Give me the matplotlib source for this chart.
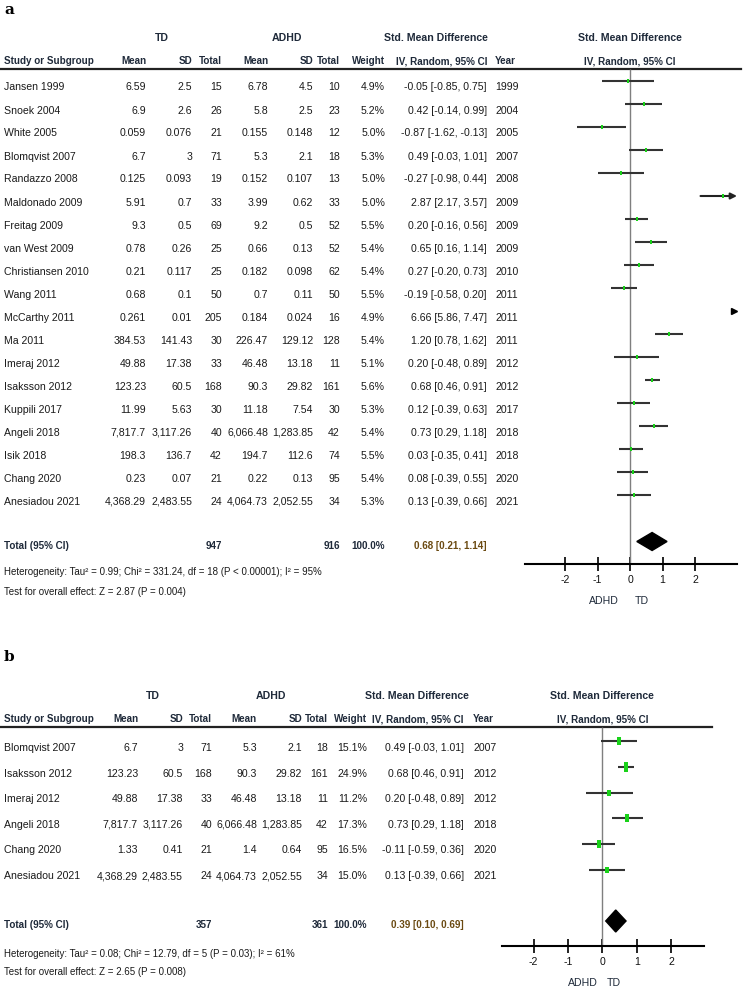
"""
Forest plot: TD vs ADHD (dos paneles, a y b)
"""

import numpy as np
import matplotlib
matplotlib.use("Agg")
import matplotlib.pyplot as plt

plt.rcParams['font.family'] = ['Liberation Sans Narrow', 'Liberation Sans', 'DejaVu Sans']

W, H = 746, 997

# ============================================================================
# DATOS - panel a
# ============================================================================
a_study = ['Jansen 1999', 'Snoek 2004', 'White 2005', 'Blomqvist 2007', 'Randazzo 2008',
           'Maldonado 2009', 'Freitag 2009', 'van West 2009', 'Christiansen 2010', 'Wang 2011',
           'McCarthy 2011', 'Ma 2011', 'Imeraj 2012', 'Isaksson 2012', 'Kuppili 2017',
           'Angeli 2018', 'Isik 2018', 'Chang 2020', 'Anesiadou 2021']
a_td_mean = [6.59, 6.9, 0.059, 6.7, 0.125, 5.91, 9.3, 0.78, 0.21, 0.68, 0.261, 384.53,
             49.88, 123.23, 11.99, 7817.7, 198.3, 0.23, 4368.29]
a_td_sd = [2.5, 2.6, 0.076, 3, 0.093, 0.7, 0.5, 0.26, 0.117, 0.1, 0.01, 141.43,
           17.38, 60.5, 5.63, 3117.26, 136.7, 0.07, 2483.55]
a_td_n = [15, 26, 21, 71, 19, 33, 69, 25, 25, 50, 205, 30, 33, 168, 30, 40, 42, 21, 24]
a_adhd_mean = [6.78, 5.8, 0.155, 5.3, 0.152, 3.99, 9.2, 0.66, 0.182, 0.7, 0.184, 226.47,
               46.48, 90.3, 11.18, 6066.48, 194.7, 0.22, 4064.73]
a_adhd_sd = [4.5, 2.5, 0.148, 2.1, 0.107, 0.62, 0.5, 0.13, 0.098, 0.11, 0.024, 129.12,
             13.18, 29.82, 7.54, 1283.85, 112.6, 0.13, 2052.55]
a_adhd_n = [10, 23, 12, 18, 13, 33, 52, 52, 62, 50, 16, 128, 11, 161, 30, 42, 74, 95, 34]
a_weight = [4.9, 5.2, 5.0, 5.3, 5.0, 5.0, 5.5, 5.4, 5.4, 5.5, 4.9, 5.4, 5.1, 5.6, 5.3,
            5.4, 5.5, 5.4, 5.3]
a_smd = [-0.05, 0.42, -0.87, 0.49, -0.27, 2.87, 0.20, 0.65, 0.27, -0.19, 6.66, 1.20,
         0.20, 0.68, 0.12, 0.73, 0.03, 0.08, 0.13]
a_lo = [-0.85, -0.14, -1.62, -0.03, -0.98, 2.17, -0.16, 0.16, -0.20, -0.58, 5.86, 0.78,
        -0.48, 0.46, -0.39, 0.29, -0.35, -0.39, -0.39]
a_hi = [0.75, 0.99, -0.13, 1.01, 0.44, 3.57, 0.56, 1.14, 0.73, 0.20, 7.47, 1.62,
        0.89, 0.91, 0.63, 1.18, 0.41, 0.55, 0.66]
a_year = [1999, 2004, 2005, 2007, 2008, 2009, 2009, 2009, 2010, 2011, 2011, 2011,
          2012, 2012, 2017, 2018, 2018, 2020, 2021]
a_total = [947, 916]
a_total_w = 100.0
a_pooled = [0.68, 0.21, 1.14]
a_het = 'Heterogeneity: Tau² = 0.99; Chi² = 331.24, df = 18 (P < 0.00001); I² = 95%'
a_test = 'Test for overall effect: Z = 2.87 (P = 0.004)'

# ============================================================================
# DATOS - panel b
# ============================================================================
b_study = ['Blomqvist 2007', 'Isaksson 2012', 'Imeraj 2012', 'Angeli 2018', 'Chang 2020',
           'Anesiadou 2021']
b_td_mean = [6.7, 123.23, 49.88, 7817.7, 1.33, 4368.29]
b_td_sd = [3, 60.5, 17.38, 3117.26, 0.41, 2483.55]
b_td_n = [71, 168, 33, 40, 21, 24]
b_adhd_mean = [5.3, 90.3, 46.48, 6066.48, 1.4, 4064.73]
b_adhd_sd = [2.1, 29.82, 13.18, 1283.85, 0.64, 2052.55]
b_adhd_n = [18, 161, 11, 42, 95, 34]
b_weight = [15.1, 24.9, 11.2, 17.3, 16.5, 15.0]
b_smd = [0.49, 0.68, 0.20, 0.73, -0.11, 0.13]
b_lo = [-0.03, 0.46, -0.48, 0.29, -0.59, -0.39]
b_hi = [1.01, 0.91, 0.89, 1.18, 0.36, 0.66]
b_year = [2007, 2012, 2012, 2018, 2020, 2021]
b_total = [357, 361]
b_total_w = 100.0
b_pooled = [0.39, 0.10, 0.69]
b_het = 'Heterogeneity: Tau² = 0.08; Chi² = 12.79, df = 5 (P = 0.03); I² = 61%'
b_test = 'Test for overall effect: Z = 2.65 (P = 0.008)'

ticks = [-2, -1, 0, 1, 2]

TXT = '#1a1a1a'
HDR = '#1f2a3a'
ORANGE = '#6b4a12'
GREEN = '#19d219'
LINE = '#333333'
FS = 7.6      # texto de filas
FSH = 7.1     # encabezados de columna (negrita)
FSG = 7.6     # encabezados de grupo
FSN = 7.0     # notas

# marcador rectangular (mas alto que ancho)
RECT = [(-0.5, -1), (0.5, -1), (0.5, 1), (-0.5, 1), (-0.5, -1)]


def fmt(v):
    return f"{v:,}"


def panel(bg, lay, d):
    """Dibuja la tabla y el forest plot de un panel"""
    bg.text(4, lay['lab_y'], lay['lab'], fontsize=11, fontweight='bold',
            family='DejaVu Serif', ha='left', va='center', color='k')

    gy, cy = lay['grp_y'], lay['col_y']
    c = lay['cols']
    kwg = dict(fontsize=FSG, fontweight='bold', color=HDR, va='center', ha='center')
    bg.text(lay['td_x'], gy, 'TD', **kwg)
    bg.text(lay['adhd_x'], gy, 'ADHD', **kwg)
    bg.text(lay['smd_x'], gy, 'Std. Mean Difference', **kwg)
    bg.text(lay['zero_px'], gy, 'Std. Mean Difference', **kwg)
    kw = dict(fontsize=FSH, fontweight='bold', color=HDR, va='center')
    bg.text(4, cy, 'Study or Subgroup', ha='left', **kw)
    for lbl, x in zip(['Mean', 'SD', 'Total', 'Mean', 'SD', 'Total', 'Weight',
                       'IV, Random, 95% CI'], c[:8]):
        bg.text(x, cy, lbl, ha='right', **kw)
    bg.text(c[8], cy, 'Year', ha='left', **kw)
    bg.text(lay['zero_px'], cy, 'IV, Random, 95% CI', ha='center', **kw)
    bg.plot([0, lay['line_x1']], [lay['line_y'], lay['line_y']], color='#222222', lw=1.6)

    ys = lay['y0'] + lay['step'] * np.arange(len(d['study']))
    for i, y in enumerate(ys):
        bg.text(4, y, d['study'][i], ha='left', va='center', fontsize=FS, color=TXT)
        vals = [fmt(d['td_mean'][i]), fmt(d['td_sd'][i]), str(d['td_n'][i]),
                fmt(d['adhd_mean'][i]), fmt(d['adhd_sd'][i]), str(d['adhd_n'][i]),
                f"{d['weight'][i]:.1f}%",
                f"{d['smd'][i]:.2f} [{d['lo'][i]:.2f}, {d['hi'][i]:.2f}]"]
        for v, x in zip(vals, c[:8]):
            bg.text(x, y, v, ha='right', va='center', fontsize=FS, color=TXT)
        bg.text(c[8], y, str(d['year'][i]), ha='left', va='center', fontsize=FS, color=TXT)

    ty = lay['tot_y']
    kwt = dict(fontsize=FSH, fontweight='bold', va='center')
    bg.text(4, ty, 'Total (95% CI)', ha='left', color=HDR, **kwt)
    bg.text(c[2], ty, str(d['total'][0]), ha='right', color=HDR, **kwt)
    bg.text(c[5], ty, str(d['total'][1]), ha='right', color=HDR, **kwt)
    bg.text(c[6], ty, f"{d['total_w']:.1f}%", ha='right', color=HDR, **kwt)
    p = d['pooled']
    bg.text(c[7], ty, f"{p[0]:.2f} [{p[1]:.2f}, {p[2]:.2f}]", ha='right', color=ORANGE, **kwt)
    bg.text(4, lay['het_y'], d['het'], ha='left', va='center', fontsize=FSN, color=TXT)
    bg.text(4, lay['test_y'], d['test'], ha='left', va='center', fontsize=FSN, color=TXT)

    # ---- forest plot ----
    x0, x1 = lay['fx']
    top, bot = lay['fy']
    ax = fig.add_axes([x0 / W, 1 - bot / H, (x1 - x0) / W, (bot - top) / H])
    xmin = (x0 - lay['zero_px']) / lay['unit']
    xmax = (x1 - lay['zero_px']) / lay['unit']
    ax.set_xlim(xmin, xmax)
    ax.set_ylim(bot, top)
    ax.patch.set_alpha(0)
    for s in ['top', 'left', 'right']:
        ax.spines[s].set_visible(False)
    ay = lay['axis_y']
    ax.spines['bottom'].set_position(('data', ay))
    ax.spines['bottom'].set_linewidth(1.5)
    ax.set_yticks([])
    ax.set_xticks(ticks)
    ax.set_xticklabels([str(t) for t in ticks])
    ax.tick_params(axis='x', direction='inout', length=10, width=1.3,
                   labelsize=FS, pad=3, colors='#111111')

    ax.vlines(0, lay['line_y'], ay, color='#7f7f7f', lw=1)

    off = -6.5
    for i, y in enumerate(ys):
        lo, hi, m = d['lo'][i], d['hi'][i], d['smd'][i]
        yy = y + off
        if lo > xmax:
            ax.plot(xmax - 0.08, yy, marker='>', color='k', ms=5, clip_on=False)
            continue
        if hi > xmax:
            ax.annotate('', xy=(xmax, yy), xytext=(lo, yy),
                        arrowprops=dict(arrowstyle='-|>', color='#222222', lw=1.5,
                                        shrinkA=0, shrinkB=0, mutation_scale=9))
        else:
            ax.plot([lo, hi], [yy, yy], color=LINE, lw=1.5, solid_capstyle='butt')
        ax.plot(m, yy, marker=RECT, color=GREEN, ms=1.3 * np.sqrt(d['weight'][i]),
                markeredgewidth=0, zorder=3)

    dy = lay['tot_y'] - 4
    h = lay['dia_h']
    ax.fill([p[1], p[0], p[2], p[0]], [dy, dy - h, dy, dy + h], color='k', zorder=3)

    ly = ay + 37
    ax.text(lay['adhd_lab'], ly, 'ADHD', ha='right', va='center', fontsize=FS, color=HDR)
    ax.text(lay['td_lab'], ly, 'TD', ha='left', va='center', fontsize=FS, color=HDR)


fig = plt.figure(figsize=(W / 100, H / 100), dpi=100)
bg = fig.add_axes([0, 0, 1, 1])
bg.set_xlim(0, W)
bg.set_ylim(H, 0)
bg.axis('off')

lay_a = dict(lab='a', lab_y=10, grp_y=38, col_y=61, td_x=162, adhd_x=287, smd_x=436,
             cols=[146, 192, 222, 268, 313, 340, 385, 487, 495],
             line_y=69, line_x1=741, y0=87.5, step=23.0, tot_y=545.5, het_y=572,
             test_y=592, fx=(525, 737), fy=(60, 610), zero_px=630, unit=32.5,
             axis_y=564, dia_h=9, adhd_lab=-0.35, td_lab=0.15)
data_a = dict(study=a_study, td_mean=a_td_mean, td_sd=a_td_sd, td_n=a_td_n,
              adhd_mean=a_adhd_mean, adhd_sd=a_adhd_sd, adhd_n=a_adhd_n, weight=a_weight,
              smd=a_smd, lo=a_lo, hi=a_hi, year=a_year, total=a_total, total_w=a_total_w,
              pooled=a_pooled, het=a_het, test=a_test)

lay_b = dict(lab='b', lab_y=657, grp_y=696, col_y=719, td_x=153, adhd_x=271, smd_x=417,
             cols=[138, 183, 212, 257, 302, 328, 367, 464, 473],
             line_y=727, line_x1=712, y0=748, step=25.6, tot_y=925, het_y=954,
             test_y=972, fx=(502, 704), fy=(720, 997), zero_px=602.3, unit=34.4,
             axis_y=946, dia_h=11, adhd_lab=-0.12, td_lab=0.14)
data_b = dict(study=b_study, td_mean=b_td_mean, td_sd=b_td_sd, td_n=b_td_n,
              adhd_mean=b_adhd_mean, adhd_sd=b_adhd_sd, adhd_n=b_adhd_n, weight=b_weight,
              smd=b_smd, lo=b_lo, hi=b_hi, year=b_year, total=b_total, total_w=b_total_w,
              pooled=b_pooled, het=b_het, test=b_test)

panel(bg, lay_a, data_a)
panel(bg, lay_b, data_b)

plt.savefig('out.png', dpi=100)
